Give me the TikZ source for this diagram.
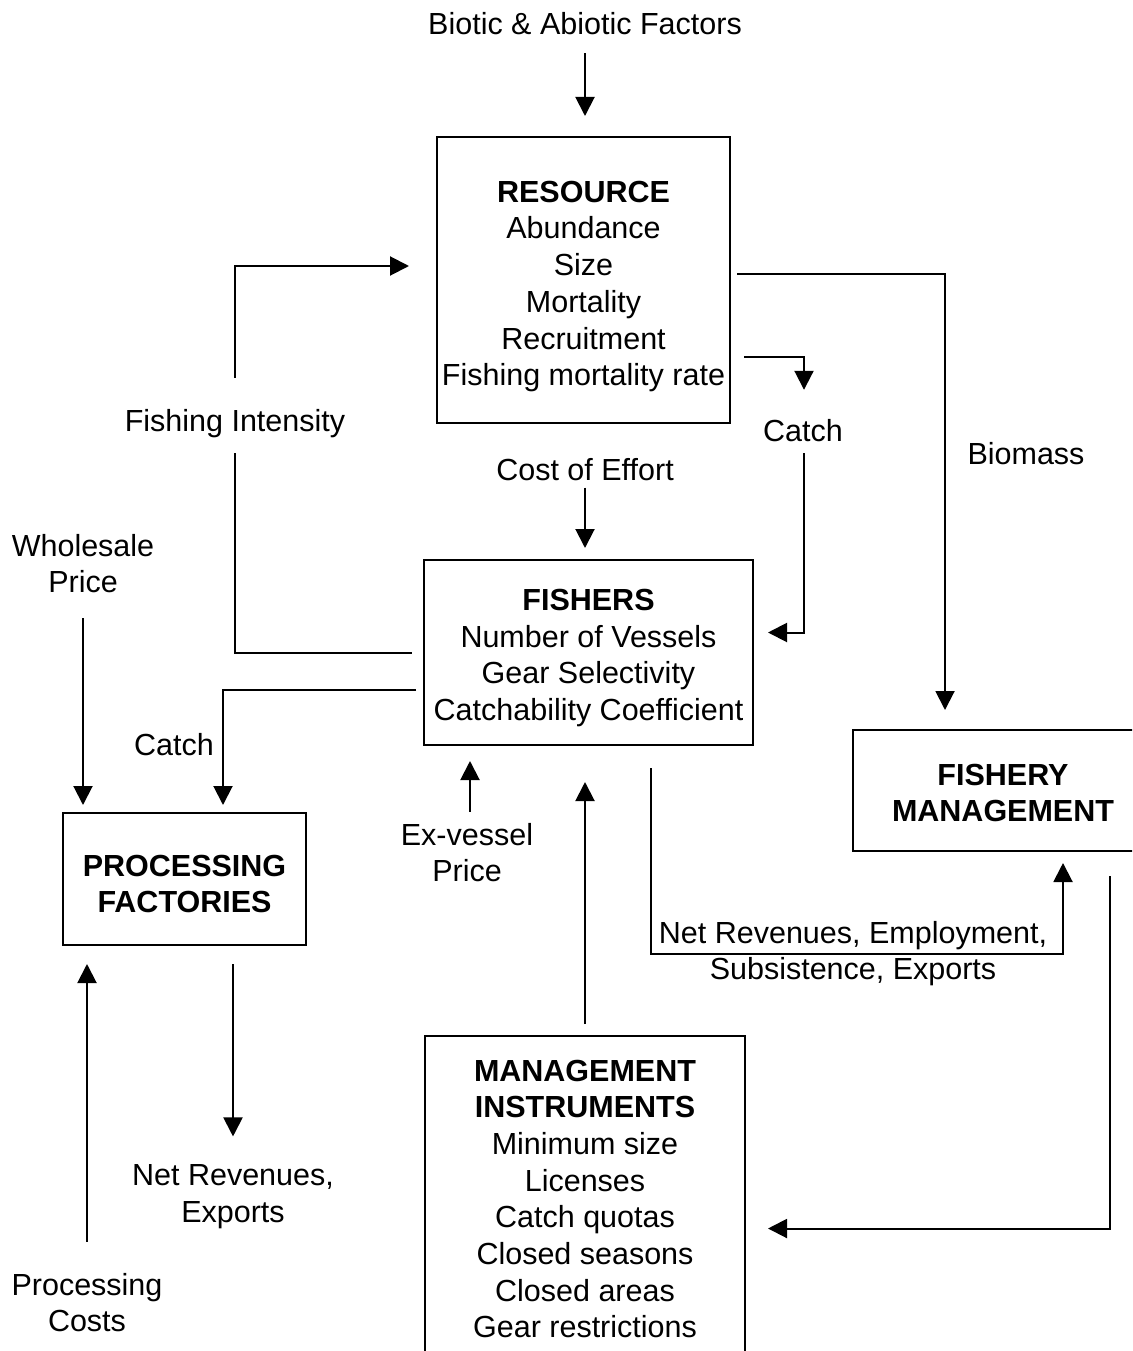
\documentclass[tikz,border=0pt]{standalone}
\usepackage{fontspec}
\setmainfont{Liberation Sans}
\usetikzlibrary{arrows.meta,calc}
\newcommand\topstr[1][28.4pt]{\rule{0pt}{#1}}
\newcommand\botstr{\rule[-6.4pt]{0pt}{6.4pt}}
\begin{document}
\begin{tikzpicture}[x=1pt,y=-1pt,
  txt/.style={inner sep=0pt,align=center,font={\fontsize{30.5pt}{36.7pt}\selectfont}},
  box/.style={draw,line width=2pt,inner sep=0pt,align=center,font={\fontsize{30.5pt}{36.7pt}\selectfont}},
  arr/.style={line width=2pt,-{Triangle[length=19pt,width=19pt]}},
  ln/.style={line width=2pt}]
\useasboundingbox (0,0) rectangle (1132,1351);
\clip (0,0) rectangle (1132,1351);
\fill[white] (0,0) rectangle (1132,1351);

% nodes
\node[txt] (bio) at (585,24) {\topstr Biotic \& Abiotic Factors\botstr};
\node[box,minimum width=293pt,minimum height=286pt] (res) at (583.5,280)
  {\topstr[34.4pt]\textbf{RESOURCE}\\Abundance\\Size\\Mortality\\Recruitment\\Fishing mortality rate\botstr};
\node[txt] (fi) at (235,420) {\topstr Fishing Intensity\botstr};
\node[txt] (catchA) at (803,430) {\topstr Catch\botstr};
\node[txt] (bm) at (1026,453) {\topstr Biomass\botstr};
\node[txt] (coe) at (585,469) {\topstr Cost of Effort\botstr};
\node[txt] (ws) at (83,563.5) {\topstr Wholesale\\Price\botstr};
\node[box,minimum width=329pt,minimum height=185pt] (fish) at (588.5,652.5)
  {\topstr[32.4pt]\textbf{FISHERS}\\Number of Vessels\\Gear Selectivity\\Catchability Coefficient\botstr};
\node[txt] (catchB) at (174,744) {\topstr Catch\botstr};
\node[box,minimum width=300pt,minimum height=121pt] (fmg) at (1003,790.5)
  {\topstr[32.4pt]\textbf{FISHERY}\\\textbf{MANAGEMENT}\botstr};
\node[box,minimum width=243pt,minimum height=132pt] (proc) at (184.5,879)
  {\topstr[37.4pt]\textbf{PROCESSING}\\\textbf{FACTORIES}\botstr};
\node[txt] (ev) at (467,852.5) {\topstr Ex-vessel\\Price\botstr};
\node[txt] (nrA) at (853,950.5) {\topstr Net Revenues, Employment,\\Subsistence, Exports\botstr};
\node[box,minimum width=320pt,minimum height=325pt] (mi) at (585,1198.5)
  {\topstr\textbf{MANAGEMENT}\\\textbf{INSTRUMENTS}\\Minimum size\\Licenses\\Catch quotas\\Closed seasons\\Closed areas\\Gear restrictions\botstr};
\node[txt] (nrB) at (233,1193) {\topstr Net Revenues,\\Exports\botstr};
\node[txt] (pc) at (87,1302.5) {\topstr Processing\\Costs\botstr};

% connectors
\draw[arr,shorten <=11.6pt,shorten >=20pt] (bio.south) -- (bio.south |- res.north);
\draw[arr,shorten <=24.6pt,shorten >=27pt] (fi.north) |- ($(res.west)+(0,-14)$);
\draw[ln,shorten <=15.6pt,shorten >=11pt] (fi.south) |- (fish.west);
\draw[arr,shorten <=13pt,shorten >=22.6pt] ($(res.east)+(0,77)$) -| ($(catchA.north)+(1,0)$);
\draw[arr,shorten <=5.6pt,shorten >=14pt] ($(catchA.south)+(1,0)$) |- ($(fish.east)+(0,-20)$);
\draw[arr,shorten <=6pt,shorten >=19pt] ($(res.east)+(0,-6)$) -| ($(fmg.north)+(-58,0)$);
\draw[arr,shorten <=1pt,shorten >=11pt] (coe.south) -- (coe.south |- fish.north);
\draw[arr,shorten <=7pt,shorten >=7pt] ($(fish.west)+(0,37)$) -| ($(proc.north)+(38.5,0)$);
\draw[arr,shorten <=18.6pt,shorten >=7pt] (ws.south) -- (ws.south |- proc.north);
\draw[arr,shorten <=4.6pt,shorten >=15pt] ($(ev.north)+(3,0)$) -- ($(ev.north |- fish.south)+(3,0)$);
\draw[arr,shorten <=11pt,shorten >=36pt] (mi.north) -- (mi.north |- fish.south);
\draw[arr,shorten <=22pt,shorten >=11pt] ($(fish.south)+(62.5,0)$) -- ++(0,208) -| ($(fmg.south)+(60,0)$);
\draw[arr,shorten <=24pt,shorten >=22pt] ($(fmg.south)+(107,0)$) |- ($(mi.east)+(0,30)$);
\draw[arr,shorten <=18pt,shorten >=20.6pt] ($(proc.south)+(48.5,0)$) -- (nrB.north);
\draw[arr,shorten <=24.6pt,shorten >=18pt] (pc.north) -- (pc.north |- proc.south);
\end{tikzpicture}
\end{document}
